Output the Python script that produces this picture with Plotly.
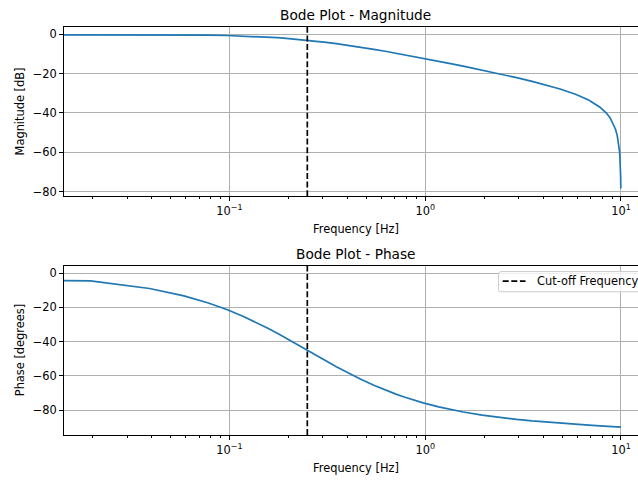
import math
import plotly.graph_objects as go

# ---------------- data ----------------
# frequency grid in Hz (first entry is DC)
freq_hz = [0.0, 0.0195, 0.0391, 0.0586, 0.0781, 0.0977, 0.1172, 0.1367, 0.1563, 0.1758,
           0.1953, 0.2344, 0.2734, 0.3125, 0.3516, 0.3906, 0.4688, 0.5469, 0.6250, 0.7031,
           0.7813, 0.8789, 0.9766, 1.1719, 1.3672, 1.5625, 1.9531, 2.3438, 2.9297, 3.5156,
           4.1016, 4.8828, 5.8594, 6.8359, 7.8125, 8.3984, 8.7891, 9.1797, 9.3750, 9.5703,
           9.6680, 9.7656, 9.8242, 9.8633, 9.9023, 9.9414, 9.9609, 9.9805]

magnitude_db = [0.0, -0.03, -0.11, -0.23, -0.40, -0.62, -0.86, -1.14, -1.43, -1.74,
                -2.07, -2.74, -3.42, -4.09, -4.74, -5.37, -6.56, -7.64, -8.62, -9.53,
                -10.36, -11.31, -12.17, -13.70, -15.03, -16.20, -18.20, -19.89, -22.05, -23.91,
                -25.64, -27.80, -30.49, -33.44, -37.04, -39.92, -42.42, -45.86, -48.25, -51.52,
                -53.76, -56.79, -59.29, -61.47, -64.40, -68.84, -72.36, -78.38]

phase_deg = [0.0, -4.47, -8.88, -13.19, -17.35, -21.33, -25.11, -28.66, -32.01, -35.11,
             -37.99, -43.15, -47.57, -51.35, -54.60, -57.40, -61.96, -65.47, -68.25, -70.49,
             -72.33, -74.21, -75.74, -78.08, -79.79, -81.09, -82.93, -84.18, -85.47, -86.34,
             -87.01, -87.67, -88.29, -88.78, -89.19, -89.42, -89.57, -89.71, -89.78, -89.85,
             -89.88, -89.92, -89.94, -89.95, -89.97, -89.98, -89.99, -89.99]

cutoff_hz = 0.25
legend_label = "Cut-off Frequency"

x_major_vals = [0.1, 1, 10]
x_major_text = ["10<sup>\u22121</sup>", "10<sup>0</sup>", "10<sup>1</sup>"]
x_minor_vals = [m * d for d in (0.01, 0.1, 1) for m in range(2, 10)]

# ---------------- styling ----------------
W, H = 638, 481
L = 64
FONT = "DejaVu Sans"
BLUE = "#1f77b4"
GRID = "#b0b0b0"
TICK_FS = 11.4
TITLE_FS = 13.7
DASH = "6px,2.6px"

# log axis cannot show DC; emulate matplotlib's clipping with a tiny frequency
x_plot = [f if f > 0 else 1e-6 for f in freq_hz]


def py(pix):
    return (H - pix) / H


def px(pix):
    return (pix - L) / (W - L)


# axes pixel extents (top, bottom)
top_ax = (26.7, 197.0)
bot_ax = (266.7, 436.7)

mag_lo, mag_hi = min(magnitude_db), max(magnitude_db)
ph_lo, ph_hi = min(phase_deg), max(phase_deg)
mpad = 0.05 * (mag_hi - mag_lo)
ppad = 0.05 * (ph_hi - ph_lo)
mag_range = [mag_lo - mpad, mag_hi + mpad]
ph_range = [ph_lo - ppad, ph_hi + ppad]

fig = go.Figure()
fig.add_trace(go.Scatter(x=x_plot, y=magnitude_db, mode="lines",
                         line=dict(color=BLUE, width=1.7), xaxis="x", yaxis="y",
                         showlegend=False, hoverinfo="skip"))
fig.add_trace(go.Scatter(x=[cutoff_hz, cutoff_hz], y=mag_range, mode="lines",
                         line=dict(color="black", width=1.7, dash=DASH),
                         xaxis="x", yaxis="y", showlegend=False, hoverinfo="skip"))
fig.add_trace(go.Scatter(x=x_plot, y=phase_deg, mode="lines",
                         line=dict(color=BLUE, width=1.7), xaxis="x2", yaxis="y2",
                         showlegend=False, hoverinfo="skip"))
fig.add_trace(go.Scatter(x=[cutoff_hz, cutoff_hz], y=ph_range, mode="lines",
                         name=legend_label,
                         line=dict(color="black", width=1.7, dash=DASH),
                         xaxis="x2", yaxis="y2", showlegend=False, hoverinfo="skip"))

xrange_log = [-1.8447, 1.0869]

common_x = dict(
    type="log", range=xrange_log, domain=[0, 1],
    showgrid=True, gridcolor=GRID, gridwidth=0.9,
    showline=True, linecolor="black", linewidth=0.9, mirror=True,
    ticks="outside", ticklen=4, tickwidth=0.9, tickcolor="black",
    tickvals=x_major_vals, ticktext=x_major_text,
    tickfont=dict(family=FONT, size=TICK_FS, color="black"),
    minor=dict(tickvals=x_minor_vals, ticks="outside", ticklen=2.3,
               tickwidth=0.7, tickcolor="black", showgrid=False),
    zeroline=False,
)
common_y = dict(
    showgrid=True, gridcolor=GRID, gridwidth=0.9,
    showline=True, linecolor="black", linewidth=0.9, mirror=False,
    ticks="outside", ticklen=4, tickwidth=0.9, tickcolor="black",
    tick0=0, dtick=20,
    tickfont=dict(family=FONT, size=TICK_FS, color="black"),
    zeroline=False,
)

# legend drawn like matplotlib's (partly outside the visible canvas on the right)
lg_l, lg_t, lg_b, lg_r = 498.5, 272.7, 293.0, 700.0
rr = 2.5


def P(xp, yp):
    return f"{px(xp):.5f},{py(yp):.5f}"


legend_path = (
    f"M {P(lg_l + rr, lg_t)} L {P(lg_r - rr, lg_t)} Q {P(lg_r, lg_t)} {P(lg_r, lg_t + rr)} "
    f"L {P(lg_r, lg_b - rr)} Q {P(lg_r, lg_b)} {P(lg_r - rr, lg_b)} "
    f"L {P(lg_l + rr, lg_b)} Q {P(lg_l, lg_b)} {P(lg_l, lg_b - rr)} "
    f"L {P(lg_l, lg_t + rr)} Q {P(lg_l, lg_t)} {P(lg_l + rr, lg_t)} Z"
)

shapes = [
    dict(type="path", xref="paper", yref="paper", path=legend_path,
         fillcolor="rgba(255,255,255,0.8)", line=dict(color="#cccccc", width=1), layer="above"),
    dict(type="line", xref="paper", yref="paper", x0=px(502.7), x1=px(525.5),
         y0=py(282.3), y1=py(282.3), line=dict(color="black", width=1.7, dash=DASH),
         layer="above"),
]

fig.update_layout(
    width=W, height=H,
    margin=dict(l=L, r=0, t=0, b=0),
    paper_bgcolor="white", plot_bgcolor="white",
    font=dict(family=FONT, size=TICK_FS, color="black"),
    showlegend=False,
    xaxis=dict(common_x, anchor="y"),
    yaxis=dict(common_y, anchor="x", range=mag_range,
               domain=[py(top_ax[1]), py(top_ax[0])]),
    xaxis2=dict(common_x, anchor="y2"),
    yaxis2=dict(common_y, anchor="x2", range=ph_range,
                domain=[py(bot_ax[1]), py(bot_ax[0])]),
    shapes=shapes,
)

ann = []
center_x = px(355.5)
ann.append(dict(text="Bode Plot - Magnitude", x=center_x, y=py(15.3), xref="paper", yref="paper",
                showarrow=False, xanchor="center", yanchor="middle",
                font=dict(family=FONT, size=TITLE_FS, color="black")))
ann.append(dict(text="Bode Plot - Phase", x=center_x, y=py(255.3), xref="paper", yref="paper",
                showarrow=False, xanchor="center", yanchor="middle",
                font=dict(family=FONT, size=TITLE_FS, color="black")))
ann.append(dict(text="Frequency [Hz]", x=center_x, y=py(229.5), xref="paper", yref="paper",
                showarrow=False, xanchor="center", yanchor="middle",
                font=dict(family=FONT, size=TICK_FS, color="black")))
ann.append(dict(text="Frequency [Hz]", x=center_x, y=py(469.5), xref="paper", yref="paper",
                showarrow=False, xanchor="center", yanchor="middle",
                font=dict(family=FONT, size=TICK_FS, color="black")))
ann.append(dict(text="Magnitude [dB]", x=px(20), y=py((top_ax[0] + top_ax[1]) / 2),
                xref="paper", yref="paper", showarrow=False, textangle=-90,
                xanchor="center", yanchor="middle",
                font=dict(family=FONT, size=TICK_FS, color="black")))
ann.append(dict(text="Phase [degrees]", x=px(20), y=py((bot_ax[0] + bot_ax[1]) / 2),
                xref="paper", yref="paper", showarrow=False, textangle=-90,
                xanchor="center", yanchor="middle",
                font=dict(family=FONT, size=TICK_FS, color="black")))
ann.append(dict(text=legend_label, x=px(535), y=py(282.3), xref="paper", yref="paper",
                showarrow=False, xanchor="left", yanchor="middle",
                font=dict(family=FONT, size=TICK_FS, color="black")))
fig.update_layout(annotations=ann)

fig.write_html("out.html")
